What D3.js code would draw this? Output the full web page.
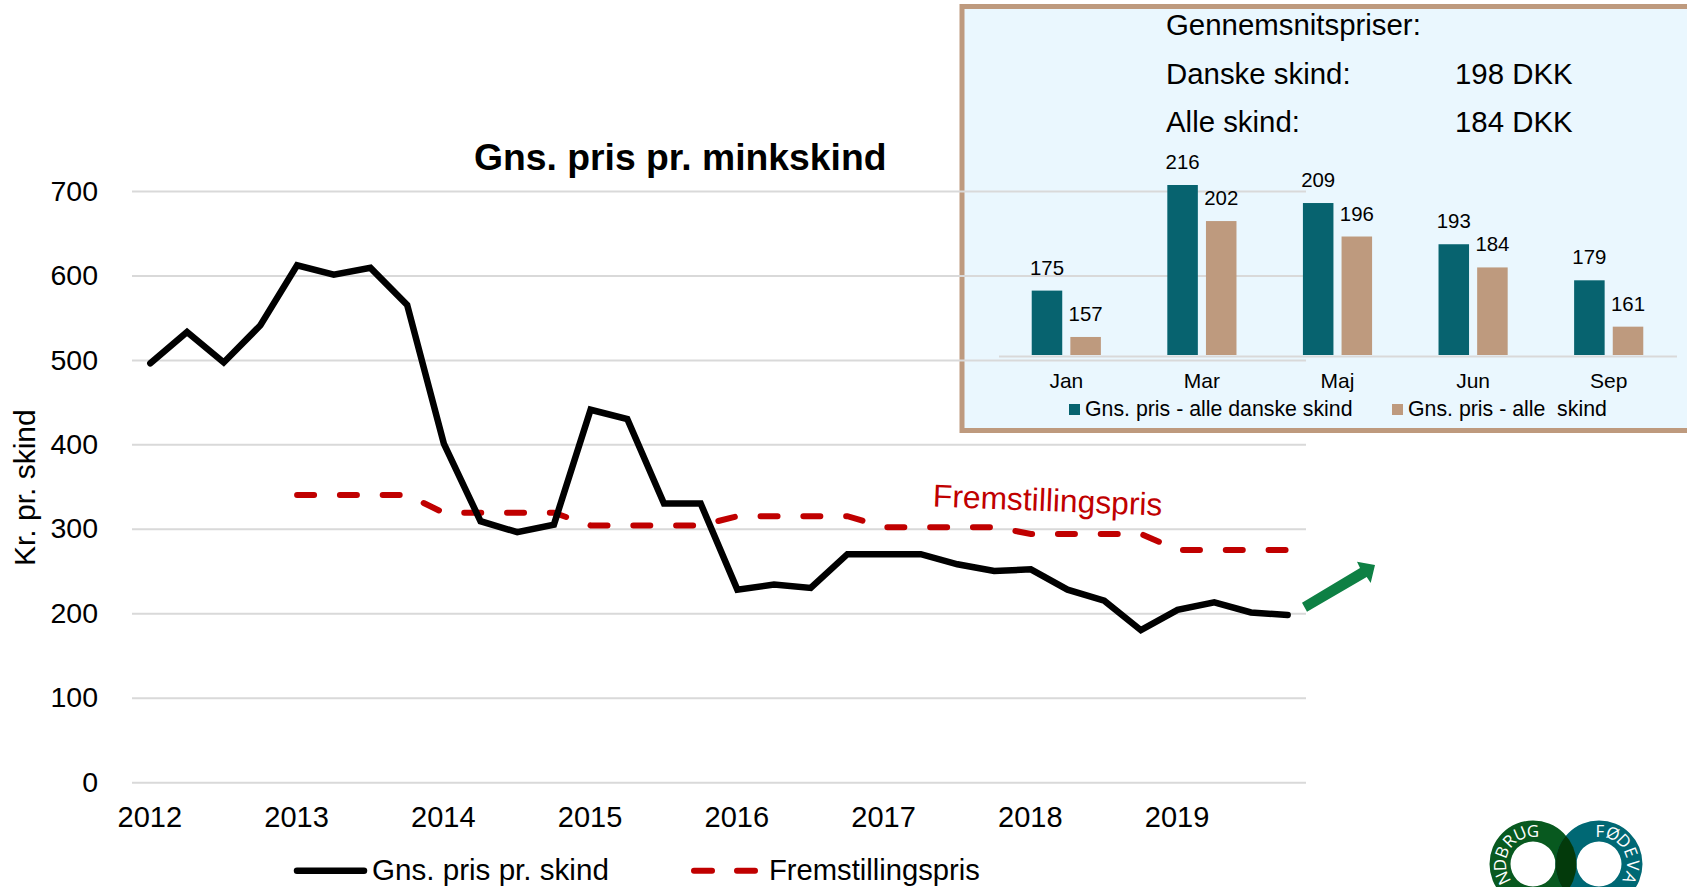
<!DOCTYPE html>
<html>
<head>
<meta charset="utf-8">
<script src="https://cdn.jsdelivr.net/npm/d3@7"></script>
<style>
  body { margin: 0; background: #fff; }
  svg { display: block; font-family: "Liberation Sans", Arial, sans-serif; }
</style>
</head>
<body>
<svg id="chart" width="1687" height="887"></svg>
<script>
const quarters = [
  "2012-1","2012-2","2012-3","2012-4","2013-1","2013-2","2013-3","2013-4",
  "2014-1","2014-2","2014-3","2014-4","2015-1","2015-2","2015-3","2015-4",
  "2016-1","2016-2","2016-3","2016-4","2017-1","2017-2","2017-3","2017-4",
  "2018-1","2018-2","2018-3","2018-4","2019-1","2019-2","2019-3","2019-4"
];
const skinPrice = [
  496, 533, 497, 541, 612, 601, 609, 565,
  401, 309, 296, 305, 441, 430, 330, 330,
  228, 234, 230, 270, 270, 270, 258, 250,
  252, 228, 215, 180, 204, 213, 201, 198
];
const productionCost = [
  null, null, null, null, 340, 340, 340, 340,
  319, 319, 319, 319, 304, 304, 304, 304,
  315, 315, 315, 315, 302, 302, 302, 302,
  294, 294, 294, 294, 275, 275, 275, 275
];
const yearTicks = ["2012-1","2013-1","2014-1","2015-1","2016-1","2017-1","2018-1","2019-1"];
const priceTicks = [0, 100, 200, 300, 400, 500, 600, 700];

const months = ["Jan", "Mar", "Maj", "Jun", "Sep"];
const danishSkins = [175, 216, 209, 193, 179];
const allSkins = [157, 202, 196, 184, 161];
const barSeries = ["Gns. pris - alle danske skind", "Gns. pris - alle  skind"];

const black = "#000", red = "#C00000", grid = "#D9D9D9", teal = "#07636F", tan = "#BE9A7E";

const svg = d3.select("#chart");

// inset panel goes first, the gridlines of the main chart run over it
svg.append("rect")
  .attr("x", 962).attr("y", 6.5)
  .attr("width", 740).attr("height", 424)
  .attr("fill", "#EAF7FE")
  .attr("stroke", tan).attr("stroke-width", 5);

// main chart
const x = d3.scalePoint().domain(quarters).range([132, 1306]).padding(0.5);
const y = d3.scaleLinear().domain([0, 700]).range([782.2, 191]);

const yAxis = svg.append("g")
  .attr("transform", "translate(132,0)")
  .call(d3.axisLeft(y).tickValues(priceTicks).tickSize(-1174).tickPadding(34));
yAxis.select(".domain").remove();
yAxis.selectAll("line").attr("stroke", grid).attr("stroke-width", 2);
yAxis.selectAll("text").attr("font-size", 28.5).attr("font-family", "inherit").attr("fill", black);

const xAxis = svg.append("g")
  .attr("transform", "translate(-1,782.7)")
  .call(d3.axisBottom(x).tickValues(yearTicks).tickSize(0).tickPadding(24).tickFormat(d => d.slice(0, 4)));
xAxis.select(".domain").remove();
xAxis.selectAll("text").attr("font-size", 29).attr("font-family", "inherit").attr("fill", black);

svg.append("text")
  .attr("x", 474).attr("y", 170)
  .attr("font-size", 37.3).attr("font-weight", "bold")
  .text("Gns. pris pr. minkskind");

svg.append("text")
  .attr("transform", "translate(35,566) rotate(-90)")
  .attr("font-size", 30)
  .text("Kr. pr. skind");

const line = d3.line()
  .defined(d => d[1] !== null)
  .x(d => x(d[0]))
  .y(d => y(d[1]));

svg.append("path")
  .datum(quarters.map((q, i) => [q, productionCost[i]]))
  .attr("d", line)
  .attr("fill", "none")
  .attr("stroke", red).attr("stroke-width", 6)
  .attr("stroke-linecap", "round")
  .attr("stroke-dasharray", "17 25.8");

svg.append("path")
  .datum(quarters.map((q, i) => [q, skinPrice[i]]))
  .attr("d", line)
  .attr("fill", "none")
  .attr("stroke", black).attr("stroke-width", 6.5)
  .attr("stroke-linecap", "round").attr("stroke-linejoin", "miter");

svg.append("text")
  .attr("transform", "translate(932.5,506.5) rotate(2.3)")
  .attr("font-size", 31.8).attr("fill", red)
  .text("Fremstillingspris");

// green arrow
svg.append("path")
  .attr("d", "M1302,602.7L1360,568L1357,561.7L1375,565L1370.7,583L1366.7,577L1307,611.7Z")
  .attr("fill", "#0E8044");

// legend of the main chart
const legend = svg.append("g");
legend.append("line")
  .attr("x1", 297).attr("x2", 364).attr("y1", 870.7).attr("y2", 870.7)
  .attr("stroke", black).attr("stroke-width", 6.5).attr("stroke-linecap", "round");
legend.append("text").attr("x", 372).attr("y", 880).attr("font-size", 29.6).text("Gns. pris pr. skind");
legend.append("line")
  .attr("x1", 694).attr("x2", 755).attr("y1", 870.7).attr("y2", 870.7)
  .attr("stroke", red).attr("stroke-width", 6).attr("stroke-linecap", "round")
  .attr("stroke-dasharray", "18 25");
legend.append("text").attr("x", 769).attr("y", 880).attr("font-size", 29.2).text("Fremstillingspris");

// inset panel content
const info = svg.append("g").attr("font-size", 29.4);
info.append("text").attr("x", 1166).attr("y", 35).text("Gennemsnitspriser:");
info.append("text").attr("x", 1166).attr("y", 84).text("Danske skind:");
info.append("text").attr("x", 1455).attr("y", 84).text("198 DKK");
info.append("text").attr("x", 1166).attr("y", 132).text("Alle skind:");
info.append("text").attr("x", 1455).attr("y", 132).text("184 DKK");

const x0 = d3.scaleBand().domain(months).range([998.5, 1676.5]).paddingInner(0.49).paddingOuter(0.245);
const x1 = d3.scaleBand().domain(barSeries).range([0, x0.bandwidth()]).paddingInner(0.21);
const yBar = d3.scaleLinear().domain([150, 216]).range([355, 185]);
const barColor = d3.scaleOrdinal().domain(barSeries).range([teal, tan]);

const groups = svg.append("g").selectAll("g")
  .data(months)
  .join("g")
  .attr("transform", d => `translate(${x0(d)},0)`);

const barRows = (d, i) => [
  { key: barSeries[0], value: danishSkins[i] },
  { key: barSeries[1], value: allSkins[i] }
];

groups.selectAll("rect")
  .data(barRows)
  .join("rect")
  .attr("x", d => x1(d.key))
  .attr("y", d => yBar(d.value))
  .attr("width", x1.bandwidth())
  .attr("height", d => yBar(150) - yBar(d.value))
  .attr("fill", d => barColor(d.key));

groups.selectAll("text")
  .data(barRows)
  .join("text")
  .attr("x", d => x1(d.key) + x1.bandwidth() / 2)
  .attr("y", d => yBar(d.value) - 16)
  .attr("text-anchor", "middle")
  .attr("font-size", 20.4)
  .text(d => d.value);

const monthAxis = svg.append("g")
  .attr("transform", "translate(0,356)")
  .call(d3.axisBottom(x0.copy().paddingInner(0).paddingOuter(0)).tickSize(0).tickPadding(17));
monthAxis.select(".domain").attr("stroke", grid).attr("stroke-width", 2);
monthAxis.selectAll("text").attr("font-size", 21).attr("font-family", "inherit").attr("fill", black);

const barLegend = svg.append("g").attr("font-size", 21.3);
[[1069, 1085], [1392, 1408]].forEach((p, i) => {
  barLegend.append("rect").attr("x", p[0]).attr("y", 404).attr("width", 11).attr("height", 11).attr("fill", barColor(barSeries[i]));
  barLegend.append("text").attr("x", p[1]).attr("y", 416).style("white-space", "pre").text(barSeries[i]);
});

// logo, cut off by the bottom of the page
const logo = svg.append("g");
const ring = (cx, cy) => {
  const p = d3.path();
  p.moveTo(cx + 43.5, cy); p.arc(cx, cy, 43.5, 0, 2 * Math.PI);
  p.moveTo(cx + 22.5, cy); p.arc(cx, cy, 22.5, 0, 2 * Math.PI);
  return p.toString();
};
logo.append("clipPath").attr("id", "leftDisc").append("circle").attr("cx", 1533).attr("cy", 864).attr("r", 43.5);
logo.append("path").attr("d", ring(1533, 864)).attr("fill", "#08591F").attr("fill-rule", "evenodd");
logo.append("path").attr("d", ring(1599, 864)).attr("fill", "#006874").attr("fill-rule", "evenodd");
logo.append("path").attr("d", ring(1599, 864)).attr("fill", "#033A0B").attr("fill-rule", "evenodd").attr("clip-path", "url(#leftDisc)");

// letters one by one round the rings, only those that reach into the page
const ringLetters = (letters, cx, step) => {
  letters.forEach((c, i) => {
    const deg = i * step;
    logo.append("text")
      .attr("transform", `translate(${cx},864) rotate(${deg}) translate(0,-27)`)
      .attr("text-anchor", "middle")
      .attr("font-family", "Open Sans, Noto Sans, sans-serif")
      .attr("font-size", 17).attr("fill", "#fff")
      .text(c);
  });
};
ringLetters(["G", "U", "R", "B", "D", "N"], 1533, -23);
ringLetters(["F", "Ø", "D", "E", "V", "A"], 1600, 23);
</script>
</body>
</html>
